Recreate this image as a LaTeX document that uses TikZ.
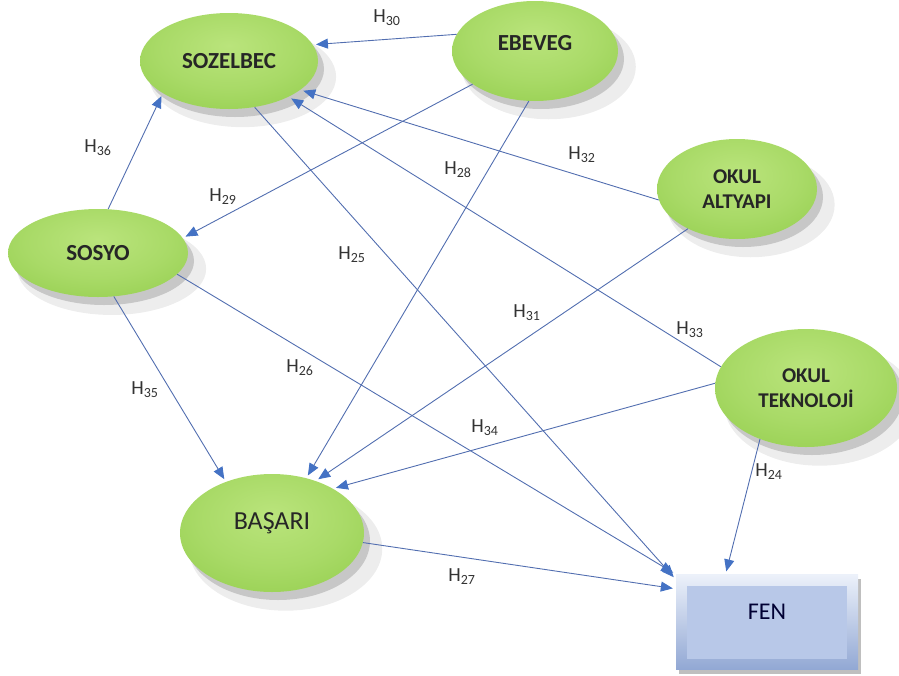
\documentclass[tikz,border=0pt]{standalone}
\usepackage{fontspec}
\setmainfont{Carlito}
\usepackage{tikz}
\usetikzlibrary{arrows.meta,shapes.geometric,shadows,positioning}

\definecolor{eggin}{RGB}{186,228,124}
\definecolor{eggmid}{RGB}{148,206,78}
\definecolor{eggout}{RGB}{100,162,40}
\definecolor{fenlight}{RGB}{236,241,250}
\definecolor{fendark}{RGB}{146,168,212}
\definecolor{fenface}{RGB}{184,200,232}
\definecolor{linkblue}{RGB}{82,110,176}
\definecolor{tipblue}{RGB}{68,114,196}

\pgfdeclareradialshading{eggshade}{\pgfpoint{0bp}{8bp}}{color(0bp)=(eggin); color(20bp)=(eggin!55!eggmid); color(38bp)=(eggmid); color(52bp)=(eggout); color(80bp)=(eggout)}

\newcommand{\hyp}[1]{H\textsubscript{#1}}

\tikzset{
	egg/.style={ellipse, shade, shading=eggshade, inner sep=0pt, align=center,
		text=black!85, font=\fontsize{23}{27}\selectfont\bfseries,
		drop shadow={shadow xshift=6pt, shadow yshift=-8pt, opacity=0.16, fill=black},
		drop shadow={shadow xshift=13pt, shadow yshift=-15pt, shadow scale=1.05, opacity=0.07, fill=black}},
	eggsmall/.style={egg, font=\fontsize{21}{25}\selectfont\bfseries},
	fenbox/.style={rectangle, minimum width=182pt, minimum height=95pt,
		top color=fenlight, bottom color=fendark, text=black!80!blue,
		font=\fontsize{24}{28}\selectfont, text height=17pt, text depth=22pt,
		path picture={\fill[fenface] ([shift={(11pt,11pt)}]path picture bounding box.south west) rectangle ([shift={(-11pt,-11pt)}]path picture bounding box.north east);},
		drop shadow={shadow xshift=3pt, shadow yshift=-4pt, opacity=0.25, fill=black}},
	link/.style={draw=linkblue, line width=0.9pt, shorten >=3pt,
		-{Triangle[length=12pt, width=10pt, color=tipblue, fill=tipblue]}},
	hyplabel/.style={font=\fontsize{20}{24}\selectfont, text=black!80, inner sep=0pt}
}

\begin{document}
\begin{tikzpicture}[x=1pt, y=-1pt]
			\useasboundingbox (0,0) rectangle (899,675);

			\node [egg, minimum width=178pt, minimum height=96pt] (sozelbec) at (229, 61) {SOZELBEC};
			\node [egg, minimum width=166pt, minimum height=100pt, text height=15pt, text depth=16pt] (ebeveg) at (535, 51) {EBEVEG};
			\node [eggsmall, minimum width=160pt, minimum height=100pt] (altyapi) at (737, 189) {OKUL\\ALTYAPI};
			\node [egg, minimum width=180pt, minimum height=88pt] (sosyo) at (98, 253) {SOSYO};
			\node [eggsmall, minimum width=182pt, minimum height=118pt] (teknoloji) at (806, 388) {OKUL\\TEKNOLOJİ};
			\node [egg, minimum width=184pt, minimum height=118pt, font=\fontsize{26}{30}\selectfont, text height=18pt, text depth=26pt] (basari) at (272, 533) {BAŞARI};
			\node [fenbox] (fen) at (767, 622) {FEN};

			\draw [link] (ebeveg.168) to (sozelbec.11);
			\draw [link] (ebeveg.208) to (sosyo.10);
			\draw [link] (ebeveg.263) to (basari.58);
			\draw [link] (altyapi.188) to (sozelbec.-22);
			\draw [link] (altyapi.219) to (basari.50);
			\draw [link] (teknoloji.166) to (sozelbec.-31);
			\draw [link] (teknoloji.177) to (basari.36);
			\draw [link] (teknoloji.228) to (fen.131);
			\draw [link] (sozelbec.-61) to (fen.155);
			\draw [link] (sosyo.77) to (sozelbec.206);
			\draw [link] (sosyo.-70) to (basari.132);
			\draw [link] (sosyo.-15) to (fen.north west);
			\draw [link] (basari.-6) to (fen.160);

			\node [hyplabel] (h30) at (387, 18) {\hyp{30}};
			\node [hyplabel] (h36) at (98, 148) {\hyp{36}};
			\node [hyplabel] (h29) at (223, 197) {\hyp{29}};
			\node [hyplabel] (h28) at (458, 170) {\hyp{28}};
			\node [hyplabel] (h32) at (582, 155) {\hyp{32}};
			\node [hyplabel] (h25) at (352, 255) {\hyp{25}};
			\node [hyplabel] (h31) at (527, 313) {\hyp{31}};
			\node [hyplabel] (h33) at (690, 330) {\hyp{33}};
			\node [hyplabel] (h26) at (300, 368) {\hyp{26}};
			\node [hyplabel] (h35) at (145, 390) {\hyp{35}};
			\node [hyplabel] (h34) at (485, 428) {\hyp{34}};
			\node [hyplabel] (h24) at (769, 472) {\hyp{24}};
			\node [hyplabel] (h27) at (462, 577) {\hyp{27}};
		\end{tikzpicture}
\end{document}
